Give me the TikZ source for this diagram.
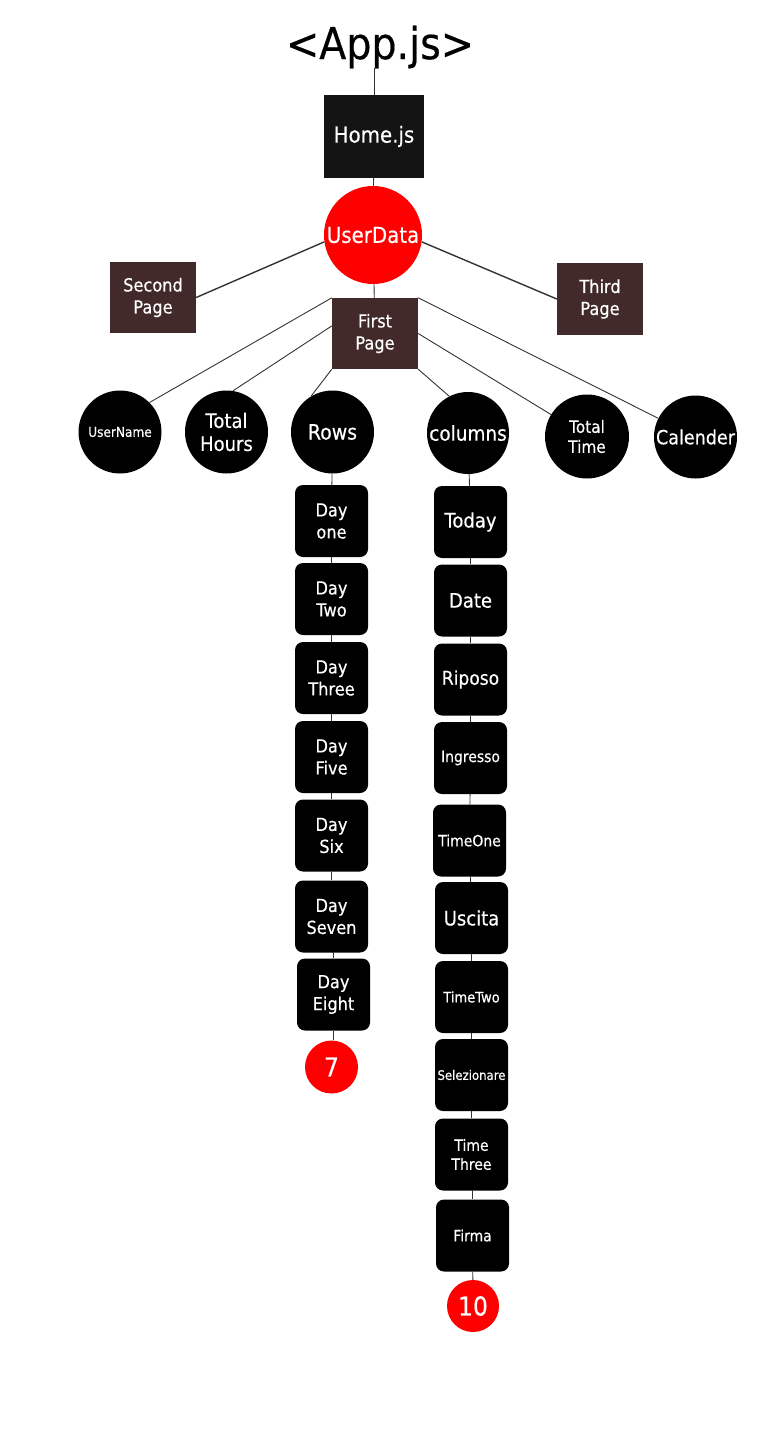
\documentclass[tikz,border=0pt]{standalone}
\usepackage{fontspec}
\setmainfont{DejaVu Sans}[FakeStretch=0.9, FakeBold=0.4]
\newcommand\fsz[2]{\fontsize{#1}{#2}\selectfont}
\definecolor{brownbox}{HTML}{432A2A}
\definecolor{homebox}{HTML}{141414}
\definecolor{lnk}{HTML}{333333}
\tikzset{
  rbox/.style={rounded corners=8, fill=black, minimum width=73, minimum height=72, text=white, align=center, inner sep=0},
  pbox/.style={fill=brownbox, minimum width=86, minimum height=71, text=white, align=center, inner sep=0, font=\fsz{18}{22}},
  bcirc/.style={circle, fill=black, minimum size=83, text=white, align=center, inner sep=0},
  rcirc/.style={circle, fill=red, text=white, inner sep=0},
  lnk/.style={draw=lnk, line width=0.9},
  tlnk/.style={draw=lnk, line width=1.4},
}
\begin{document}
\begin{tikzpicture}[x=1pt,y=-1pt]
\useasboundingbox (0,0) rectangle (761,1431);
% top
\node[inner sep=0, font=\fsz{44}{50}] (app) at (380,47) {<App.js>};
\node[fill=homebox, minimum width=100, minimum height=83, text=white, inner sep=0, font=\fsz{22}{26}] (home) at (374,136.5) {Home.js};
\node[rcirc, minimum size=98, font=\fsz{22}{26}] (ud) at (373,235) {UserData};
\node[pbox] (sp) at (153,297.5) {Second\\Page};
\node[pbox, minimum height=72] (tp) at (600,299) {Third\\Page};
\node[pbox] (fp) at (375,333.5) {First\\Page};
% level 3
\node[bcirc, font=\fsz{13.5}{16}] (un) at (120,432) {UserName};
\node[bcirc, font=\fsz{20}{23}] (th) at (226.5,432) {Total\\Hours};
\node[bcirc, font=\fsz{21}{24}] (rows) at (332.5,432) {Rows};
\node[bcirc, minimum size=82, font=\fsz{20.5}{24}] (cols) at (468,433) {columns};
\node[bcirc, minimum size=84, font=\fsz{17}{20}] (tt) at (587,436.5) {Total\\Time};
\node[bcirc, font=\fsz{19.5}{24}] (cal) at (695.5,437) {Calender};
% rows stack
\node[rbox, font=\fsz{18}{22}] (d1) at (331.5,521) {Day\\one};
\node[rbox, font=\fsz{18}{22}] (d2) at (331.5,599) {Day\\Two};
\node[rbox, font=\fsz{18}{22}] (d3) at (331.5,678) {Day\\Three};
\node[rbox, font=\fsz{18}{22}] (d5) at (331.5,757) {Day\\Five};
\node[rbox, font=\fsz{18}{22}] (d6) at (331.5,835.5) {Day\\Six};
\node[rbox, font=\fsz{18}{22}] (d7) at (331.5,916.5) {Day\\Seven};
\node[rbox, font=\fsz{18}{22}] (d8) at (333.5,994.5) {Day\\Eight};
\node[rcirc, minimum size=53, font=\fsz{26}{30}] (seven) at (331.5,1067) {7};
% columns stack
\node[rbox, font=\fsz{20}{24}] (c1) at (470.5,522) {Today};
\node[rbox, font=\fsz{20}{24}] (c2) at (470.5,600.5) {Date};
\node[rbox, font=\fsz{19}{24}] (c3) at (470.5,679.5) {Riposo};
\node[rbox, font=\fsz{15.5}{20}] (c4) at (470.5,758) {Ingresso};
\node[rbox, font=\fsz{15.5}{20}] (c5) at (469.5,840.5) {TimeOne};
\node[rbox, font=\fsz{20}{24}] (c6) at (471.5,918) {Uscita};
\node[rbox, font=\fsz{14.5}{18}] (c7) at (471.5,997) {TimeTwo};
\node[rbox, font=\fsz{13}{16}] (c8) at (471.5,1075) {Selezionare};
\node[rbox, font=\fsz{15.5}{19}] (c9) at (471.5,1154.5) {Time\\Three};
\node[rbox, font=\fsz{15.5}{19}] (c10) at (472.5,1235.5) {Firma};
\node[rcirc, minimum size=52, font=\fsz{26}{30}] (ten) at (473,1306) {10};
% connectors
\draw[lnk] (home.north |- app.south) -- (home.north);
\draw[lnk] (home) -- (ud);
\draw[tlnk] (ud.188) -- (sp.east);
\draw[tlnk] (ud.352) -- (tp.west);
\draw[lnk] (ud) -- (fp);
\draw[lnk] (fp.north west) -- (un.45);
\draw[lnk] (fp.170) -- (th.81);
\draw[lnk] (fp.south west) -- (rows.121);
\draw[lnk] (fp.south east) -- (cols.117);
\draw[lnk] (fp.east) -- (tt);
\draw[lnk] (fp.north east) -- (cal);
\draw[lnk] (rows) -- (d1);
\draw[lnk] (d1) -- (d2);
\draw[lnk] (d2) -- (d3);
\draw[lnk] (d3) -- (d5);
\draw[lnk] (d5) -- (d6);
\draw[lnk] (d6) -- (d7);
\draw[lnk] (d7.south) -- (d7.south -| d8.north) -- (d8.north);
\draw[lnk] (d8.south) -- (seven.north -| d8.south);
\draw[lnk] (cols) -- (c1);
\draw[lnk] (c1) -- (c2);
\draw[lnk] (c2) -- (c3);
\draw[lnk] (c3) -- (c4);
\draw[lnk] (c4) -- (c5);
\draw[lnk] (c5) -- (c6);
\draw[lnk] (c6) -- (c7);
\draw[lnk] (c7) -- (c8);
\draw[lnk] (c8) -- (c9);
\draw[lnk] (c9.south) -- (c9.south -| c10.north) -- (c10.north);
\draw[lnk] (c10) -- (ten);
\end{tikzpicture}
\end{document}
